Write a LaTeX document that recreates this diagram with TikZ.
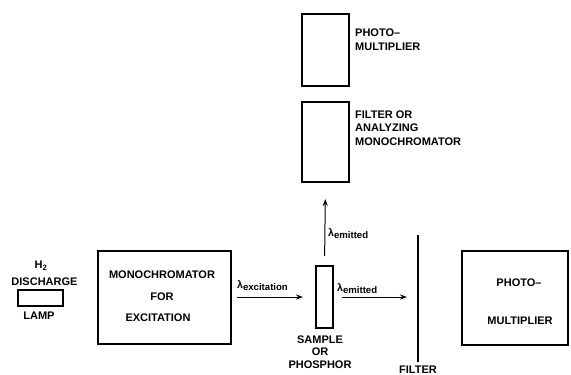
\documentclass[tikz,border=0pt]{standalone}
\usepackage{fontspec}
\setmainfont{Liberation Sans}
\usetikzlibrary{arrows.meta}
\newcommand{\lamsub}[1]{λ\raisebox{-2.6pt}{\fontsize{9.6}{10}\selectfont #1}}
\begin{document}
\begin{tikzpicture}[x=1pt,y=-1pt,
  box/.style={draw,line width=1.1pt,inner sep=0pt,outer sep=0pt},
  lbl/.style={font=\fontsize{11}{13}\selectfont\bfseries,align=center,inner sep=0pt},
  lam/.style={font=\fontsize{10.5}{12}\selectfont\bfseries,inner sep=0pt,anchor=base west},
  arr/.style={line width=1pt,-{Stealth[length=7pt,width=5pt]}}]
\useasboundingbox (0,0) rectangle (571,375);
% lamp
\node[box,minimum width=45pt,minimum height=16pt] (lamp) at (40.5,298) {};
\node[lbl] (h2) at (41,266) {H\textsubscript{2}};
\node[lbl] (dis) at (44.5,282) {DISCHARGE};
\node[lbl] (lmp) at (39,316) {LAMP};
% monochromator
\node[box,minimum width=133pt,minimum height=93pt] (mono) at (164.5,297.5) {};
\node[lbl] (m1) at (162,275) {MONOCHROMATOR};
\node[lbl] (m2) at (162,297) {FOR};
\node[lbl] (m3) at (158,318) {EXCITATION};
% sample
\node[box,minimum width=17pt,minimum height=62pt] (sample) at (324.5,297) {};
\node[lbl,font=\fontsize{11}{12}\selectfont\bfseries] (st) at (320,352) {SAMPLE\\[0.5pt]OR\\[0.5pt]PHOSPHOR};
% upper boxes
\node[box,minimum width=47pt,minimum height=80pt] (fbox) at (325.5,142) {};
\node[lbl,align=left,anchor=west,font=\fontsize{11}{13.5}\selectfont\bfseries] (ft) at (355,128) {FILTER OR\\ANALYZING\\MONOCHROMATOR};
\node[box,minimum width=47pt,minimum height=72pt] (pmt) at (325.5,50) {};
\node[lbl,align=left,anchor=west,font=\fontsize{11}{13.5}\selectfont\bfseries] (pt) at (355,39.5) {PHOTO--\\MULTIPLIER};
% right photomultiplier
\node[box,minimum width=106pt,minimum height=94pt] (pmr) at (515,298) {};
\node[lbl] (p1) at (519,283) {PHOTO--};
\node[lbl] (p2) at (520,321) {MULTIPLIER};
% filter line
\coordinate (ftop) at (418,235);
\coordinate (fbot) at (418,362);
\draw[line width=2pt] (ftop) -- (fbot);
\node[lbl] (flt) at (418,370) {FILTER};
% arrows
\coordinate (excs) at (237,297);
\draw[arr,shorten >=13pt] (excs) -- (sample.west);
\draw[arr,shorten <=9pt,shorten >=11pt] (sample.east) -- (ftop |- sample.east);
\draw[arr,shorten <=10pt,shorten >=17pt] (sample.north) -- (fbox.south);
% lambda labels
\node[lam] (l1) at (237,288) {\lamsub{excitation}};
\node[lam] (l2) at (337,291) {\lamsub{emitted}};
\node[lam] (l3) at (328,236) {\lamsub{emitted}};
\end{tikzpicture}
\end{document}
